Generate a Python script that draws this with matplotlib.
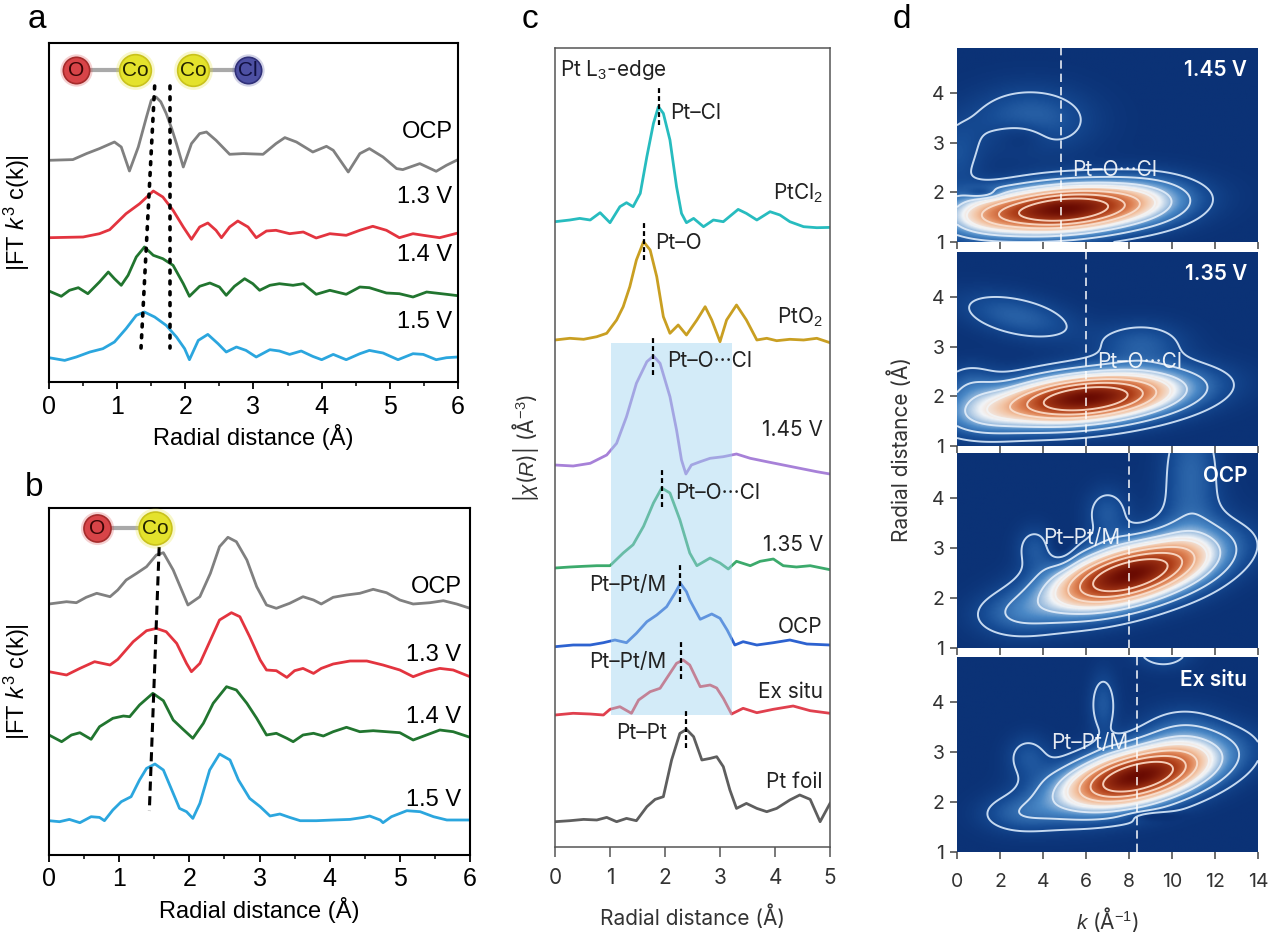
import numpy as np
import matplotlib.pyplot as plt
from matplotlib.colors import LinearSegmentedColormap

plt.rcParams['font.family'] = ['Liberation Sans', 'DejaVu Sans']
plt.rcParams['mathtext.fontset'] = 'custom'
plt.rcParams['mathtext.rm'] = 'Liberation Sans'
plt.rcParams['mathtext.it'] = 'Liberation Sans:italic'
plt.rcParams['mathtext.bf'] = 'Liberation Sans:bold'
plt.rcParams['lines.solid_joinstyle'] = 'round'

# ---------------- data ----------------
# panel a : |FT k3 c(k)|, intensity above each curve's own baseline
a_labels = ['OCP', '1.3 V', '1.4 V', '1.5 V']
a_ocp_r = [0, 0.35, 0.55, 0.74, 0.96, 1.06, 1.18, 1.31, 1.43, 1.50, 1.57, 1.64, 1.72, 1.80, 1.87,
           1.97, 2.09, 2.21, 2.31, 2.45, 2.65, 2.85, 3.14, 3.33, 3.46, 3.63, 3.87, 4.07, 4.17, 4.39,
           4.56, 4.70, 4.90, 5.10, 5.19, 5.44, 5.68, 5.83, 6.0]
a_ocp_y = [0, 0.7, 6.7, 11.7, 18.3, 13.3, -10.7, 13.3, 43.3, 60, 63.3, 58.5, 46.7, 31.7, 16.7,
           -6.7, 16.7, 26.7, 28.3, 20, 6, 6.7, 6, 16.7, 22.7, 18.3, 8.3, 14, 10, -11.7,
           6.7, 11.7, 3.3, -8.3, -9.3, -3.3, -11, -5, 0.7]
a_13_r = [0, 0.5, 0.74, 0.89, 1.13, 1.33, 1.53, 1.67, 1.82, 1.97, 2.09, 2.21, 2.33, 2.45, 2.53,
          2.65, 2.77, 2.92, 3.04, 3.19, 3.33, 3.53, 3.73, 3.92, 4.12, 4.36, 4.56, 4.75, 4.95, 5.14,
          5.34, 5.49, 5.73, 6.0]
a_13_y = [-0.7, 0, 3.3, 7.3, 23.3, 33.3, 46, 40, 26.7, 10, -2.3, 10, 14, 6.7, -0.7,
          10, 16, 10, -0.7, 6, 6.7, 3.3, 5, -1, 3.3, 1.7, 6.7, 10.7, 6.7, -0.7,
          3.3, 1.7, -0.7, 4]
a_14_r = [0, 0.18, 0.30, 0.43, 0.57, 0.74, 0.87, 0.96, 1.06, 1.16, 1.28, 1.40, 1.53, 1.67, 1.82,
          1.97, 2.06, 2.21, 2.36, 2.50, 2.60, 2.72, 2.87, 2.99, 3.09, 3.24, 3.38, 3.58, 3.73, 3.92,
          4.12, 4.36, 4.56, 4.70, 4.95, 5.14, 5.34, 5.54, 5.83, 6.0]
a_14_y = [1, -4.3, 1.7, 4.3, -1.7, 10, 20, 13.3, 6.7, 16.7, 35, 45, 36.7, 33.3, 26.7,
          8.3, -4.3, 5.7, 9, 5, -3.3, 5.7, 13.3, 8.3, 1.7, 6.7, 8.3, 6.7, 8.3, -2.3,
          1.7, -2.3, 5, 4.3, -1, -1.7, -5, 0, -2.3, -3.7]
a_15_r = [0, 0.23, 0.40, 0.60, 0.79, 0.96, 1.13, 1.28, 1.40, 1.55, 1.72, 1.87, 1.99, 2.06, 2.19,
          2.33, 2.48, 2.60, 2.75, 2.89, 3.04, 3.24, 3.38, 3.53, 3.70, 3.87, 4.00, 4.17, 4.36, 4.56,
          4.70, 4.90, 5.12, 5.34, 5.49, 5.68, 5.83, 6.0]
a_15_y = [0, -2.7, 0.7, 5.7, 9, 15.7, 29, 42.3, 45.7, 40.7, 32.3, 20.7, 9, -2, 17.3,
          23.3, 14, 5.7, 10.7, 7.3, 0.7, 8, 6.7, 3.3, 6.7, 1.3, -2, 3.3, -2, 4,
          7.3, 4.7, -2, 4, 3.3, -2, 0, 0.7]
a_guide_top = [1.55, 1.78]     # dotted guides, R at top / bottom
a_guide_bottom = [1.35, 1.78]

# panel b
b_labels = ['OCP', '1.3 V', '1.4 V', '1.5 V']
b_ocp_r = [0, 0.25, 0.39, 0.53, 0.68, 0.87, 0.98, 1.10, 1.25, 1.39, 1.53, 1.63, 1.77, 1.89, 1.98,
           2.15, 2.30, 2.43, 2.55, 2.67, 2.82, 2.96, 3.10, 3.24, 3.43, 3.62, 3.77, 3.88, 4.05, 4.24,
           4.43, 4.62, 4.81, 5.00, 5.19, 5.43, 5.62, 5.81, 6.0]
b_ocp_y = [0, 2.3, 1.3, 6.7, 10.7, 7.3, 14, 24, 30.7, 37.3, 49, 51.3, 34, 14, -1,
           7.3, 30.7, 57.3, 66.7, 62.3, 44, 17.3, -1, -4.3, 0.7, 7.3, 4, 0, 6.7, 9,
           10.7, 14.7, 11.3, 4, 0, 1.3, 3.3, 0, -4.3]
b_13_r = [0, 0.25, 0.44, 0.65, 0.87, 0.98, 1.20, 1.39, 1.53, 1.67, 1.82, 1.96, 2.03, 2.15, 2.29,
          2.43, 2.60, 2.72, 2.86, 3.01, 3.10, 3.24, 3.39, 3.50, 3.62, 3.77, 3.88, 4.05, 4.29, 4.53,
          4.76, 5.00, 5.19, 5.38, 5.57, 5.76, 6.0]
b_13_y = [0, -3.3, 3.3, 10, 6.7, 12.3, 30, 41, 43.3, 40, 28.3, 8.3, 0, 8.3, 30,
          51.7, 59, 55, 35, 11.7, 1.7, 1, -5.7, 1, 3.3, -1.7, 3.3, 7.7, 10.7, 10.7,
          6.7, 1.7, -5, 0, 3.3, 1.7, -5]
b_14_r = [0, 0.18, 0.32, 0.44, 0.60, 0.72, 0.91, 1.06, 1.15, 1.29, 1.48, 1.63, 1.77, 1.91, 2.05,
          2.20, 2.34, 2.53, 2.67, 2.82, 2.96, 3.10, 3.24, 3.39, 3.48, 3.62, 3.77, 3.91, 4.05, 4.24,
          4.43, 4.62, 4.81, 5.00, 5.19, 5.38, 5.57, 5.76, 6.0]
b_14_y = [0, -6.7, 0, 2.3, -4.3, 8.3, 16.7, 19, 18.3, 30, 41.7, 34.3, 15, 5.7, -3.3,
          11.7, 31.7, 48.3, 45, 31.7, 16.7, 0, 1.7, -3.3, -6.7, 0, 1.7, -1, 3.3, 7.7,
          3.3, 4.3, 3.3, 2.3, -5, 0, 5, 3.3, -2.3]
b_15_r = [0, 0.15, 0.29, 0.44, 0.60, 0.72, 0.79, 0.91, 1.03, 1.17, 1.29, 1.39, 1.51, 1.63, 1.75,
          1.86, 1.96, 2.05, 2.15, 2.29, 2.43, 2.58, 2.70, 2.86, 3.01, 3.15, 3.29, 3.43, 3.58, 3.81,
          4.05, 4.29, 4.48, 4.57, 4.72, 4.76, 4.88, 5.10, 5.29, 5.48, 5.67, 6.0]
b_15_y = [0, -1, 1.3, -2, 4, 3.3, 0, 10.7, 19, 24, 40.7, 52.3, 56.7, 50.7, 30.7,
          12.3, 9, 2.3, 17.3, 50.7, 66.7, 60.7, 40.7, 22.3, 14, 4.7, 6.7, 3.3, 0, 0,
          0.7, 1.3, 3.3, 4.7, 0.7, -2, 4, 10, 9, 4, 0.7, 0.7]
b_guide = [1.57, 1.43]

# panel c : Pt L3-edge |chi(R)|
c_labels = ['PtCl$_2$', 'PtO$_2$', '1.45 V', '1.35 V', 'OCP', 'Ex situ', 'Pt foil']
c_ptcl2_r = [0, 0.27, 0.45, 0.64, 0.82, 1.0, 1.18, 1.30, 1.42, 1.55, 1.67, 1.79, 1.88, 1.97, 2.09,
             2.21, 2.30, 2.39, 2.52, 2.70, 2.88, 3.06, 3.33, 3.48, 3.67, 3.91, 4.09, 4.27, 4.52, 4.76, 5.0]
c_ptcl2_y = [0, 1.7, 3.3, 1.7, 9, -1, 15, 19, 15, 28.3, 65, 98.3, 115, 108.3, 81.7,
             35, 8.3, -1, 3.3, -5, 1.7, 0, 12.3, 8.3, 1.7, 10, 6.7, 0, -5, -6, -5.7]
c_pto2_r = [0, 0.27, 0.52, 0.76, 0.94, 1.12, 1.24, 1.36, 1.48, 1.61, 1.73, 1.85, 1.97, 2.09, 2.24,
            2.39, 2.58, 2.73, 2.85, 3.0, 3.12, 3.30, 3.48, 3.67, 3.85, 4.03, 4.27, 4.52, 4.76, 5.0]
c_pto2_y = [0, 1.7, 0.7, 3.3, 6.7, 20, 33.3, 53.3, 80, 98.3, 90, 63.3, 23.3, 6.7, 15,
            5, 20, 33.3, 20, -1.7, 20, 35, 20, 0, 1.7, -0.7, 0.7, 0, 1.7, -2.7]
c_145_r = [0, 0.33, 0.64, 0.94, 1.12, 1.30, 1.48, 1.67, 1.79, 1.91, 2.09, 2.21, 2.30, 2.38, 2.48,
           2.64, 2.82, 3.06, 3.30, 3.55, 3.85, 4.15, 4.45, 4.76, 5.0]
c_145_y = [0, -1, 1.7, 10, 21.7, 48.3, 81.7, 103.3, 109, 101.7, 68.3, 35, 5, -9, 0,
           3.3, 6.7, 8.3, 11, 6.7, 3.3, 0, -3.3, -6.7, -9]
c_135_r = [0, 0.27, 0.52, 0.76, 1.0, 1.24, 1.42, 1.61, 1.79, 1.94, 2.09, 2.27, 2.45, 2.58, 2.82,
           3.0, 3.15, 3.30, 3.55, 3.73, 3.97, 4.15, 4.39, 4.64, 5.0]
c_135_y = [0, 1, 1.7, 2.3, 2.3, 15, 23.3, 41.7, 65, 80, 75, 48.3, 15, 2.3, 10,
           5, -1, 6.7, 2.3, 6.7, 9, 2.3, 1, 2.3, -1.7]
c_ocp_r = [0, 0.33, 0.64, 0.88, 1.09, 1.30, 1.48, 1.67, 1.85, 2.03, 2.18, 2.28, 2.39, 2.45, 2.64,
           2.85, 3.0, 3.13, 3.27, 3.42, 3.67, 3.97, 4.27, 4.58, 5.0]
c_ocp_y = [-0.7, 1, 1, 3.3, 6, 3.3, 12.7, 24.3, 31, 39.3, 52.7, 62.7, 54.3, 46, 26.7,
           32, 27.7, 16, 1, 4.3, 1, 3.3, 6, 2, 1]
c_exs_r = [0, 0.33, 0.64, 0.88, 1.0, 1.18, 1.39, 1.52, 1.73, 1.91, 2.09, 2.21, 2.33, 2.45, 2.64,
           2.82, 2.94, 3.06, 3.21, 3.42, 3.67, 3.97, 4.33, 4.64, 5.0]
c_exs_y = [-1, 0.7, 0, -1, 4.7, 7.3, 0.7, 14, 22.3, 25.7, 40.7, 50.7, 54, 49, 27.3,
           29, 26, 15.7, 0, 5.7, 1.3, 4.7, 8, 3.3, 0.7]
c_foil_r = [0, 0.27, 0.52, 0.76, 0.94, 1.12, 1.30, 1.48, 1.67, 1.82, 1.97, 2.12, 2.27, 2.39, 2.52,
            2.67, 2.82, 2.94, 3.06, 3.18, 3.30, 3.48, 3.67, 3.85, 4.03, 4.27, 4.45, 4.64, 4.82, 5.0]
c_foil_y = [0, 1, 2.3, 1.7, 4.3, 0, 3.3, 1, 15, 22.3, 25, 61.7, 88.3, 92.3, 85,
            61.7, 63.3, 65, 55, 31.7, 13.3, 18.3, 13.3, 10, 13.3, 21.7, 26.7, 22.3, 0, 18.3]
c_peak_r = [1.89, 1.62, 1.79, 1.95, 2.27, 2.29, 2.38]
c_shade = [1.02, 3.22]

# panel d : wavelet transform maps, blobs (k0, R0, sigma_k, sigma_R, tilt, amplitude)
d_labels = ['1.45 V', '1.35 V', 'OCP', 'Ex situ']
d_guide_k = [4.84, 6.0, 8.0, 8.37]
d_blobs_145 = [(5.0, 1.65, 2.8, 0.32, 0.03, 1.0), (1.0, 1.55, 1.3, 0.3, 0.0, 0.14),
               (3.4, 3.45, 1.9, 0.45, 0.0, 0.13), (3.0, 3.15, 0.9, 0.22, 0.0, -0.07),
               (0.0, 2.7, 0.8, 0.5, 0.0, 0.08), (9.0, 1.85, 1.5, 0.35, 0.0, 0.08),
               (1.2, 1.97, 0.55, 0.07, 0.0, -0.12)]
d_blobs_135 = [(6.0, 1.95, 2.9, 0.33, 0.04, 1.0), (1.0, 1.6, 1.3, 0.3, 0.0, 0.12),
               (2.8, 3.6, 1.9, 0.3, -0.08, 0.12), (8.6, 3.05, 1.4, 0.3, 0.0, 0.11),
               (0.6, 2.25, 0.9, 0.3, 0.0, 0.09)]
d_blobs_ocp = [(8.0, 2.45, 2.5, 0.4, 0.1, 1.0), (10.9, 4.6, 0.9, 0.8, 0.0, 0.12),
               (10.9, 3.3, 1.2, 0.6, 0.0, 0.07), (7.0, 3.7, 0.7, 0.35, 0.0, 0.10),
               (2.6, 1.65, 1.3, 0.3, 0.0, 0.09), (3.6, 3.0, 0.6, 0.3, 0.0, 0.09),
               (4.9, 2.95, 0.45, 0.25, 0.0, -0.06)]
d_blobs_exs = [(8.4, 2.5, 2.4, 0.38, 0.09, 1.0), (6.8, 3.95, 0.45, 0.45, 0.0, 0.10),
               (10.5, 3.4, 1.3, 0.35, 0.0, 0.10), (3.3, 2.9, 0.7, 0.3, 0.0, 0.09),
               (2.8, 1.75, 1.2, 0.25, 0.0, 0.09), (9.0, 1.72, 0.8, 0.07, 0.0, -0.08),
               (9.6, 5.05, 0.9, 0.25, 0.0, 0.12)]
d_bond = ['Pt–O···Cl', 'Pt–O···Cl', 'Pt–Pt/M', 'Pt–Pt/M']

# ---------------- layout helpers ----------------
W, H = 1269, 936


def rect(l, t, r, b):
    return [l / W, 1 - b / H, (r - l) / W, (b - t) / H]


INTER = ['Inter', 'DejaVu Sans']

fig = plt.figure(figsize=(W / 100, H / 100), dpi=100)


def atom(ax, x, y, s, face, edge, txt, tcol):
    ax.scatter([x], [y], s=s * 1.5, color=face, alpha=0.25, transform=ax.transAxes,
               clip_on=False, zorder=5, linewidths=0)
    ax.scatter([x], [y], s=s, color=face, edgecolors=edge, linewidths=1.2,
               transform=ax.transAxes, clip_on=False, zorder=6)
    ax.text(x, y, txt, transform=ax.transAxes, ha='center', va='center', fontsize=15,
            color=tcol, zorder=7)


def bond(ax, x1, x2, y):
    ax.plot([x1, x2], [y, y], color='#a9a9a9', lw=3, transform=ax.transAxes, zorder=4,
            clip_on=False)


def co_axes(ax, ymax):
    ax.set_xlim(0, 6)
    ax.set_ylim(0, ymax)
    ax.set_xticks(range(7))
    ax.set_xticks(np.arange(0.5, 6, 1), minor=True)
    ax.set_yticks([])
    ax.tick_params(axis='x', which='major', direction='out', length=5, width=1.3,
                   labelsize=18, pad=4)
    ax.tick_params(axis='x', which='minor', direction='out', length=3, width=1.1)
    for sp in ax.spines.values():
        sp.set_linewidth(1.5)
    ax.set_xlabel('Radial distance (Å)', fontsize=17, labelpad=4)
    ax.set_ylabel('|FT $k^3$ c(k)|', fontsize=17, labelpad=12)


co_colors = ['#808080', '#e3343f', '#21752f', '#2ba6de']

# ---------------- panel a ----------------
ax_a = fig.add_axes(rect(49, 43, 458, 382))
a_r = [a_ocp_r, a_13_r, a_14_r, a_15_r]
a_y = [a_ocp_y, a_13_y, a_14_y, a_15_y]
a_off = [221.7, 145, 90, 24.3]
a_lab_h = [250, 185, 127, 60]
for r, y, off, c, lab, lh in zip(a_r, a_y, a_off, co_colors, a_labels, a_lab_h):
    ax_a.plot(r, np.array(y) + off, color=c, lw=2.0)
    ax_a.text(5.92, lh, lab, ha='right', va='center', fontsize=17)
for xt, xb in zip(a_guide_top, a_guide_bottom):
    ax_a.plot([xt, xb], [296, 34], color='black', lw=2.6, ls=(0, (0.8, 2.2)),
              dash_capstyle='round')
co_axes(ax_a, 339)
bond(ax_a, 0.066, 0.210, 0.920)
bond(ax_a, 0.352, 0.487, 0.920)
atom(ax_a, 0.066, 0.920, 360, '#d84448', '#a52b2b', 'O', '#3a0505')
atom(ax_a, 0.210, 0.920, 520, '#e4e22c', '#c9c21c', 'Co', '#222200')
atom(ax_a, 0.352, 0.920, 520, '#e4e22c', '#c9c21c', 'Co', '#222200')
atom(ax_a, 0.487, 0.920, 360, '#4d50a3', '#2f2f78', 'Cl', '#101040')
fig.text(37 / W, 1 - 20 / H, 'a', fontsize=24, ha='center', va='center')

# ---------------- panel b ----------------
ax_b = fig.add_axes(rect(49, 508, 470, 855))
b_r = [b_ocp_r, b_13_r, b_14_r, b_15_r]
b_y = [b_ocp_y, b_13_y, b_14_y, b_15_y]
b_off = [251, 183.3, 120, 34.3]
b_lab_h = [268, 200, 138, 55]
for r, y, off, c, lab, lh in zip(b_r, b_y, b_off, co_colors, b_labels, b_lab_h):
    ax_b.plot(r, np.array(y) + off, color=c, lw=2.0)
    ax_b.text(5.88, lh, lab, ha='right', va='center', fontsize=17)
ax_b.plot(b_guide, [308, 44], color='black', lw=2.2, ls=(0, (3, 1.8)))
co_axes(ax_b, 347)
bond(ax_b, 0.114, 0.252, 0.942)
atom(ax_b, 0.114, 0.942, 380, '#d84448', '#a52b2b', 'O', '#3a0505')
atom(ax_b, 0.252, 0.942, 560, '#e4e22c', '#c9c21c', 'Co', '#222200')
fig.text(34 / W, 1 - 487 / H, 'b', fontsize=24, ha='center', va='center')

# ---------------- panel c ----------------
ax_c = fig.add_axes(rect(555, 48, 830, 847))
c_r = [c_ptcl2_r, c_pto2_r, c_145_r, c_135_r, c_ocp_r, c_exs_r, c_foil_r]
c_y = [c_ptcl2_y, c_pto2_y, c_145_y, c_135_y, c_ocp_y, c_exs_y, c_foil_y]
c_off = [625.3, 507, 382, 279, 201, 133, 25.3]
c_colors = ['#27bcbf', '#c99f22', '#a781d8', '#3caa6c', '#2d62d0', '#e0404e', '#5e5e5e']
c_lab_h = [654, 530, 417, 302, 220, 155, 65]
TXT = dict(fontsize=15, family=INTER, va='center', color='#222222')
for r, y, off, c, lab, lh, pk in zip(c_r, c_y, c_off, c_colors, c_labels, c_lab_h, c_peak_r):
    ax_c.plot(r, np.array(y) + off, color=c, lw=2.0)
    ax_c.text(4.87, lh, lab, ha='right', **TXT)
    top = off + max(y)
    ax_c.plot([pk, pk], [top - 18.5, top + 18.5], color='black', lw=1.6, ls=(0, (2.2, 1.4)),
              zorder=6)
ax_c.axvspan(c_shade[0], c_shade[1], ymin=132 / 799, ymax=504 / 799, color='#9fd3f0',
             alpha=0.45, lw=0, zorder=4)
ax_c.text(0.1, 777, 'Pt L$_3$-edge', **TXT)
ax_c.text(2.09, 734, 'Pt–Cl', **TXT)
ax_c.text(1.82, 604, 'Pt–O', **TXT)
ax_c.text(2.03, 486, 'Pt–O···Cl', zorder=7, **TXT)
ax_c.text(2.18, 354, 'Pt–O···Cl', zorder=7, **TXT)
ax_c.text(2.03, 262, 'Pt–Pt/M', ha='right', zorder=7, **TXT)
ax_c.text(2.03, 185, 'Pt–Pt/M', ha='right', zorder=7, **TXT)
ax_c.text(2.03, 114, 'Pt–Pt', ha='right', **TXT)
ax_c.set_xlim(0, 5)
ax_c.set_ylim(0, 799)
ax_c.set_xticks(range(6))
ax_c.set_yticks([])
ax_c.tick_params(axis='x', direction='out', length=7, width=1.1, color='#555555',
                 labelsize=15, labelcolor='#333333', pad=8, labelfontfamily='Inter')
for sp in ax_c.spines.values():
    sp.set_color('#555555')
    sp.set_linewidth(1.1)
ax_c.set_xlabel('Radial distance (Å)', fontsize=15, family=INTER, color='#333333', labelpad=12)
ax_c.set_ylabel('|$\\chi$($R$)| (Å$^{-3}$)', fontsize=15, family=INTER, color='#333333',
                labelpad=10)
fig.text(530 / W, 1 - 20 / H, 'c', fontsize=24, ha='center', va='center')

# ---------------- panel d ----------------
wt_cmap = LinearSegmentedColormap.from_list('wt', [
    (0.0, '#0b3276'), (0.08, '#174d96'), (0.2, '#4a88c6'), (0.36, '#f2f5f8'),
    (0.48, '#f3c4a4'), (0.6, '#de8254'), (0.76, '#b0401a'), (1.0, '#6a0b02')])
k_grid = np.linspace(0, 14, 281)
r_grid = np.linspace(1, 4.9, 157)
KK, RR = np.meshgrid(k_grid, r_grid)
levels = [0.06, 0.15, 0.27, 0.4, 0.53, 0.66, 0.8]
lev_colors = ['#c5d9f0', '#cfe0f3', '#dbe8f6', '#f2f2f2', '#f7dccb', '#f7d2bd', '#f5cdb8']

d_rows = [(48, 242), (252, 446), (453, 648), (657, 852)]
d_all = [d_blobs_145, d_blobs_135, d_blobs_ocp, d_blobs_exs]
d_bond_pos = [(5.35, 2.44), (6.5, 2.69), (4.0, 3.2), (4.4, 3.18)]
for i, ((t, b), blobs, lab, gk, bl, bp) in enumerate(
        zip(d_rows, d_all, d_labels, d_guide_k, d_bond, d_bond_pos)):
    ax = fig.add_axes(rect(957, t, 1258, b))
    Z = np.zeros_like(KK)
    for k0, r0, sk, sr, tilt, amp in blobs:
        dk = KK - k0
        dr = RR - r0 - tilt * dk
        Z += amp * np.exp(-0.5 * ((dk / sk) ** 2 + (dr / sr) ** 2))
    ax.imshow(Z, extent=[0, 14, 1, 4.9], origin='lower', aspect='auto', cmap=wt_cmap,
              vmin=0, vmax=1, interpolation='bilinear')
    ax.contour(KK, RR, Z, levels=levels, colors=lev_colors, linewidths=1.4)
    ax.axvline(gk, color='white', lw=1.2, ls=(0, (5, 3)), alpha=0.9)
    ax.text(13.5, 4.45, lab, color='white', fontsize=15, family=INTER, fontweight='semibold',
            ha='right', va='center')
    ax.text(bp[0], bp[1], bl, color='white', fontsize=15, family=INTER, ha='left', va='center',
            alpha=0.9)
    ax.set_xlim(0, 14)
    ax.set_ylim(1, 4.9)
    ax.set_xticks(range(0, 15, 2))
    ax.set_yticks([1, 2, 3, 4])
    for sp in ax.spines.values():
        sp.set_visible(False)
    ax.tick_params(direction='out', length=5, width=1.1, color='#444444', labelsize=14,
                   labelcolor='#333333', labelfontfamily='Inter', pad=4)
    if i < 3:
        ax.tick_params(axis='x', labelbottom=False)
    else:
        ax.tick_params(axis='x', pad=10)
        ax.set_xlabel('$k$ (Å$^{-1}$)', fontsize=15, family=INTER, color='#333333', labelpad=10)
fig.text(900 / W, 1 - 450 / H, 'Radial distance (Å)', rotation=90, fontsize=15, family=INTER,
         color='#333333', ha='center', va='center')
fig.text(902 / W, 1 - 20 / H, 'd', fontsize=24, ha='center', va='center')

fig.savefig('out.png', dpi=100)
